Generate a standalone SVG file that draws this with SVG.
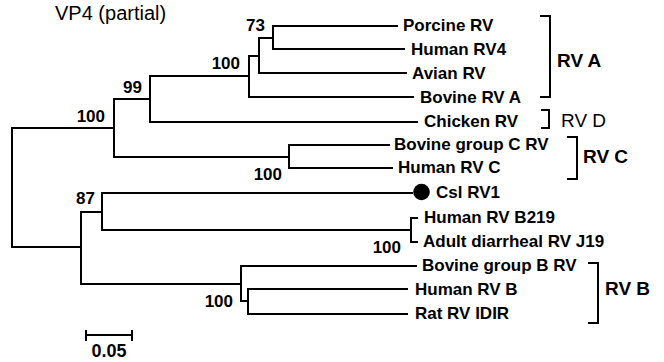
<svg xmlns="http://www.w3.org/2000/svg" width="664" height="362" viewBox="0 0 664 362">
<style>
.br{fill:none;stroke:#000;stroke-width:2;stroke-linejoin:miter;stroke-linecap:butt}
.lf{font-family:"Liberation Sans",Arial,sans-serif;font-size:17px;font-weight:bold;fill:#000}
.bs{font-family:"Liberation Sans",Arial,sans-serif;font-size:17px;font-weight:bold;fill:#000;text-anchor:end}
.cl{font-family:"Liberation Sans",Arial,sans-serif;font-size:19px;font-weight:bold;fill:#000}
.clr{font-family:"Liberation Sans",Arial,sans-serif;font-size:19px;fill:#000}
</style>
<rect width="664" height="362" fill="#fff"/>
<text x="55" y="20" font-family="'Liberation Sans',Arial,sans-serif" font-size="20">VP4 (partial)</text>
<g id="connectors">
<path class="br" d="M114,128 H12 V247 H81"/>
<path class="br" d="M150,99 H114 V157 H289"/>
<path class="br" d="M249,76 H150 V122 H418"/>
<path class="br" d="M259,56 H249 V97 H414"/>
<path class="br" d="M273,38 H259 V73 H407"/>
<path class="br" d="M398,26 H273 V49 H405"/>
<path class="br" d="M390,145 H289 V168 H393"/>
<path class="br" d="M102,212 H81 V284 H241"/>
<path class="br" d="M413,193 H102 V230 H411"/>
<path class="br" d="M418,218 H411 V242 H418"/>
<path class="br" d="M417,266 H241 V301 H248"/>
<path class="br" d="M408,289 H248 V314 H408"/>
</g>
<g id="bootstrap">
<text class="bs" x="265" y="31">73</text>
<text class="bs" x="240" y="69">100</text>
<text class="bs" x="142" y="93">99</text>
<text class="bs" x="105" y="122">100</text>
<text class="bs" x="282" y="180">100</text>
<text class="bs" x="95" y="204">87</text>
<text class="bs" x="401" y="253">100</text>
<text class="bs" x="233" y="307">100</text>
</g>
<g id="leaf-porcine"><text class="lf" x="403" y="31">Porcine RV</text></g>
<g id="leaf-human-rv4"><text class="lf" x="411" y="55">Human RV4</text></g>
<g id="leaf-avian"><text class="lf" x="412" y="79">Avian RV</text></g>
<g id="leaf-bovine-a"><text class="lf" x="420" y="103">Bovine RV A</text></g>
<g id="leaf-chicken"><text class="lf" x="424" y="127">Chicken RV</text></g>
<g id="leaf-bovine-c"><text class="lf" x="394" y="150">Bovine group C RV</text></g>
<g id="leaf-human-c"><text class="lf" x="398" y="173">Human RV C</text></g>
<g id="leaf-csl"><circle cx="421.5" cy="192" r="8.3" fill="#000"/><text class="lf" x="436" y="198">Csl RV1</text></g>
<g id="leaf-b219"><text class="lf" x="424" y="223">Human RV B219</text></g>
<g id="leaf-j19"><text class="lf" x="423" y="247">Adult diarrheal RV J19</text></g>
<g id="leaf-bovine-b"><text class="lf" x="422" y="271">Bovine group B RV</text></g>
<g id="leaf-human-b"><text class="lf" x="415" y="295">Human RV B</text></g>
<g id="leaf-rat"><text class="lf" x="415" y="319">Rat RV IDIR</text></g>
<g id="clade-a"><path class="br" d="M540,16 H550 V97 H540"/><text class="cl" x="557" y="67">RV A</text></g>
<g id="clade-d"><path class="br" d="M541,110 H549 V128 H541"/><text class="clr" x="561" y="127">RV D</text></g>
<g id="clade-c"><path class="br" d="M567,137 H577 V179 H567"/><text class="cl" x="583" y="163">RV C</text></g>
<g id="clade-b"><path class="br" d="M588,263 H598 V323 H588"/><text class="cl" x="605" y="295">RV B</text></g>
<g id="scale"><path class="br" d="M86,335 H132 M86,330 V341 M132,330 V341"/><text x="109" y="357" text-anchor="middle" font-family="'Liberation Sans',Arial,sans-serif" font-size="18" font-weight="bold">0.05</text></g>
</svg>
